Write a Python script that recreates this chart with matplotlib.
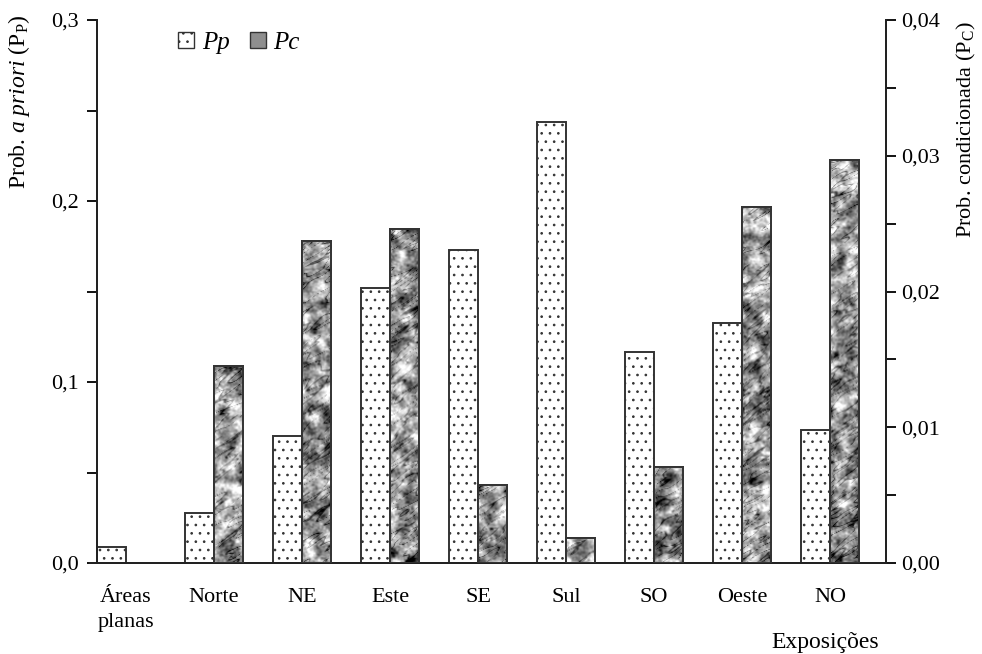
import numpy as np
import matplotlib.pyplot as plt
from matplotlib.ticker import MultipleLocator, FuncFormatter
from matplotlib.patches import Patch

plt.rcParams['font.family'] = ['Liberation Serif', 'DejaVu Serif']
plt.rcParams['mathtext.fontset'] = 'custom'
plt.rcParams['mathtext.rm'] = 'Liberation Serif'
plt.rcParams['mathtext.it'] = 'Liberation Serif:italic'
plt.rcParams['hatch.linewidth'] = 0.7
plt.rcParams['hatch.color'] = '#555555'

# exposições (aspect classes)
categorias = ['Áreas\nplanas', 'Norte', 'NE', 'Este', 'SE', 'Sul', 'SO', 'Oeste', 'NO']
# probabilidade a priori (eixo esquerdo)
pp = [0.0088, 0.0276, 0.0702, 0.1519, 0.1729, 0.2436, 0.1166, 0.1326, 0.0735]
# probabilidade condicionada (eixo direito)
pc = [0.0, 0.0145, 0.0237, 0.0246, 0.00575, 0.00184, 0.0071, 0.0262, 0.0297]

x = np.arange(len(categorias))
w = 0.33
edge = '#333333'


def virgula(v, pos, casas):
    return f'{v:.{casas}f}'.replace('.', ',')


def blur(a, s_long, s_short=None, ang=0.0):
    # filtro gaussiano (anisotropico se s_short for dado) via FFT
    if s_short is None:
        s_short = s_long
    ky = np.fft.fftfreq(a.shape[0])[:, None]
    kx = np.fft.fftfreq(a.shape[1])[None, :]
    c, s = np.cos(ang), np.sin(ang)
    ku = kx * c - ky * s
    kv = kx * s + ky * c
    g = np.exp(-2 * np.pi ** 2 * ((s_long * ku) ** 2 + (s_short * kv) ** 2))
    return np.real(np.fft.ifft2(np.fft.fft2(a) * g))


def textura(rng, ny, nx):
    # ruido suavizado tipo "marmore" para o preenchimento das barras Pc
    a = blur(rng.standard_normal((ny, nx)), 3.5)
    b = blur(rng.standard_normal((ny, nx)), 0.9)
    t = a / a.std() + 0.5 * b / b.std()
    veio = blur(rng.standard_normal((ny, nx)), 7, 1.4, np.radians(35))
    veio = np.abs(veio) / veio.std()
    t = t - 2.4 * np.clip(0.3 - veio, 0, None) / 0.3
    return t


fig = plt.figure(figsize=(9.82, 6.54), dpi=100)
ax = fig.add_axes([0.0988, 0.1391, 0.8034, 0.8303])
ax2 = ax.twinx()

ax.bar(x - w / 2, pp, width=w, facecolor='white', edgecolor=edge,
       linewidth=1.4, hatch='..', zorder=2)

rng = np.random.default_rng(5)
barras = ax2.bar(x + w / 2, pc, width=w, facecolor='#9a9a9a', edgecolor=edge,
                 linewidth=1.4, zorder=2)
for b in barras:
    h = b.get_height()
    if h <= 0:
        continue
    x0 = b.get_x()
    linhas = max(int(h / 0.04 * 543), 6)
    im = ax2.imshow(textura(rng, linhas, 29), extent=(x0, x0 + w, 0, h),
                    aspect='auto', cmap='gray', vmin=-3.8, vmax=2.4,
                    interpolation='bilinear', zorder=2.5)
    im.set_clip_path(b)
    ax2.bar(x0 + w / 2, h, width=w, facecolor='none', edgecolor=edge,
            linewidth=1.4, zorder=3)

ax.set_xlim(-0.33, 8.636)
ax.set_ylim(0, 0.3)
ax2.set_ylim(0, 0.04)

ax.yaxis.set_major_locator(MultipleLocator(0.1))
ax.yaxis.set_minor_locator(MultipleLocator(0.05))
ax.yaxis.set_major_formatter(FuncFormatter(lambda v, p: virgula(v, p, 1)))
ax2.yaxis.set_major_locator(MultipleLocator(0.01))
ax2.yaxis.set_minor_locator(MultipleLocator(0.005))
ax2.yaxis.set_major_formatter(FuncFormatter(lambda v, p: virgula(v, p, 2)))

ax.set_xticks(x)
ax.set_xticklabels(categorias, linespacing=1.45)
ax.tick_params(axis='x', length=0, pad=18, labelsize=16)
ax.tick_params(axis='y', which='both', length=7, width=1.3, pad=6,
               labelsize=16, direction='out')
ax2.tick_params(axis='y', which='both', length=7, width=1.3, pad=4,
                labelsize=16, direction='out')

for a in (ax, ax2):
    a.spines['top'].set_visible(False)
    for s in ('left', 'right', 'bottom'):
        a.spines[s].set_linewidth(1.4)
        a.spines[s].set_color('#222222')

ax.spines['bottom'].set_bounds(-0.41, 8.636)

ax.set_ylabel(r'Prob. $\it{a\ priori}$ (P$_\mathrm{P}$)', fontsize=17, loc='top')
ax.yaxis.set_label_coords(-0.083, 1.01)
ax2.set_ylabel(r'Prob. condicionada (P$_\mathrm{C}$)', fontsize=16, loc='top')
ax2.yaxis.set_label_coords(1.087, 0.997)

fig.text(0.84, 0.017, 'Exposições', fontsize=17, ha='center', va='center')

handles = [Patch(facecolor='white', edgecolor=edge, hatch='..', linewidth=1),
           Patch(facecolor='#8e8e8e', edgecolor=edge, linewidth=1)]
leg = ax2.legend(handles, ['Pp', 'Pc'], loc='upper left',
                 bbox_to_anchor=(0.09, 0.997), ncol=2, frameon=False,
                 handlelength=0.65, handleheight=0.65, handletextpad=0.3,
                 columnspacing=0.8, borderaxespad=0.0,
                 prop={'family': 'Liberation Serif', 'style': 'italic', 'size': 18})

fig.savefig('out.png', dpi=100)
